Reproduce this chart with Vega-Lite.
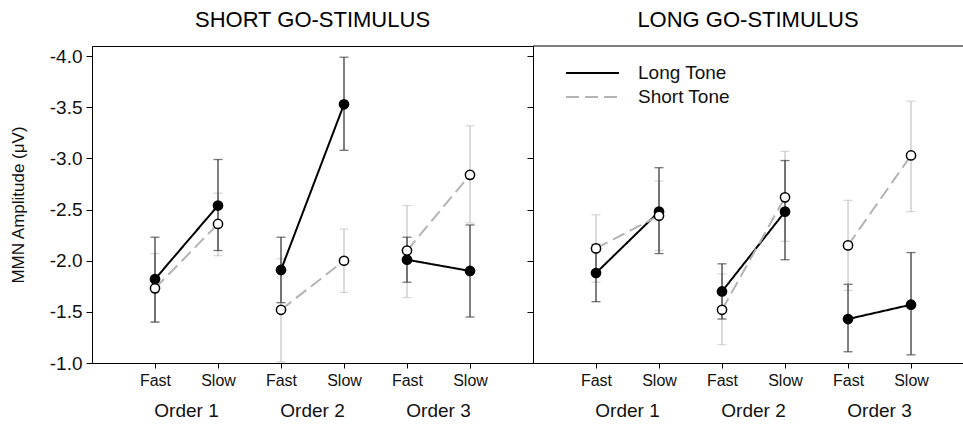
{
  "$schema": "https://vega.github.io/schema/vega-lite/v6.json",
  "padding": {"left": 8, "top": 8, "right": 0, "bottom": 0},
  "bounds": "flush",
  "spacing": 0,
  "config": {
    "font": "Liberation Sans",
    "view": {"stroke": "black", "strokeWidth": 1},
    "title": {"fontSize": 22, "fontWeight": "normal", "color": "black", "offset": 14, "anchor": "middle"},
    "axis": {"domainColor": "black", "tickColor": "black", "labelColor": "#111", "grid": false, "labelFont": "Liberation Sans", "titleFont": "Liberation Sans", "titleColor": "#111"},
    "axisX": {"tickSize": 5, "labelFontSize": 16, "labelPadding": 4},
    "axisY": {"tickSize": 6, "labelFontSize": 19, "labelPadding": 4, "titleFontSize": 17, "titleFontWeight": "normal", "titlePadding": 22}
  },
  "datasets": {
    "d": [
      {"panel": "short", "order": "Order 1", "speed": "Fast", "cond": 1, "tone": "Long Tone", "mean": -1.82, "lo": -2.23, "hi": -1.40},
      {"panel": "short", "order": "Order 1", "speed": "Slow", "cond": 2, "tone": "Long Tone", "mean": -2.54, "lo": -2.99, "hi": -2.10},
      {"panel": "short", "order": "Order 2", "speed": "Fast", "cond": 3, "tone": "Long Tone", "mean": -1.91, "lo": -2.23, "hi": -1.59},
      {"panel": "short", "order": "Order 2", "speed": "Slow", "cond": 4, "tone": "Long Tone", "mean": -3.53, "lo": -3.99, "hi": -3.08},
      {"panel": "short", "order": "Order 3", "speed": "Fast", "cond": 5, "tone": "Long Tone", "mean": -2.01, "lo": -2.23, "hi": -1.79},
      {"panel": "short", "order": "Order 3", "speed": "Slow", "cond": 6, "tone": "Long Tone", "mean": -1.90, "lo": -2.35, "hi": -1.45},
      {"panel": "short", "order": "Order 1", "speed": "Fast", "cond": 1, "tone": "Short Tone", "mean": -1.73, "lo": -2.07, "hi": -1.40},
      {"panel": "short", "order": "Order 1", "speed": "Slow", "cond": 2, "tone": "Short Tone", "mean": -2.36, "lo": -2.66, "hi": -2.05},
      {"panel": "short", "order": "Order 2", "speed": "Fast", "cond": 3, "tone": "Short Tone", "mean": -1.52, "lo": -2.02, "hi": -1.01},
      {"panel": "short", "order": "Order 2", "speed": "Slow", "cond": 4, "tone": "Short Tone", "mean": -2.00, "lo": -2.31, "hi": -1.69},
      {"panel": "short", "order": "Order 3", "speed": "Fast", "cond": 5, "tone": "Short Tone", "mean": -2.10, "lo": -2.54, "hi": -1.64},
      {"panel": "short", "order": "Order 3", "speed": "Slow", "cond": 6, "tone": "Short Tone", "mean": -2.84, "lo": -3.32, "hi": -2.37},
      {"panel": "long", "order": "Order 1", "speed": "Fast", "cond": 1, "tone": "Long Tone", "mean": -1.88, "lo": -2.16, "hi": -1.60},
      {"panel": "long", "order": "Order 1", "speed": "Slow", "cond": 2, "tone": "Long Tone", "mean": -2.48, "lo": -2.91, "hi": -2.07},
      {"panel": "long", "order": "Order 2", "speed": "Fast", "cond": 3, "tone": "Long Tone", "mean": -1.70, "lo": -1.97, "hi": -1.43},
      {"panel": "long", "order": "Order 2", "speed": "Slow", "cond": 4, "tone": "Long Tone", "mean": -2.48, "lo": -2.98, "hi": -2.01},
      {"panel": "long", "order": "Order 3", "speed": "Fast", "cond": 5, "tone": "Long Tone", "mean": -1.43, "lo": -1.77, "hi": -1.11},
      {"panel": "long", "order": "Order 3", "speed": "Slow", "cond": 6, "tone": "Long Tone", "mean": -1.57, "lo": -2.08, "hi": -1.08},
      {"panel": "long", "order": "Order 1", "speed": "Fast", "cond": 1, "tone": "Short Tone", "mean": -2.12, "lo": -2.45, "hi": -1.79},
      {"panel": "long", "order": "Order 1", "speed": "Slow", "cond": 2, "tone": "Short Tone", "mean": -2.44, "lo": -2.78, "hi": -2.10},
      {"panel": "long", "order": "Order 2", "speed": "Fast", "cond": 3, "tone": "Short Tone", "mean": -1.52, "lo": -1.87, "hi": -1.18},
      {"panel": "long", "order": "Order 2", "speed": "Slow", "cond": 4, "tone": "Short Tone", "mean": -2.62, "lo": -3.07, "hi": -2.19},
      {"panel": "long", "order": "Order 3", "speed": "Fast", "cond": 5, "tone": "Short Tone", "mean": -2.15, "lo": -2.59, "hi": -1.71},
      {"panel": "long", "order": "Order 3", "speed": "Slow", "cond": 6, "tone": "Short Tone", "mean": -3.03, "lo": -3.56, "hi": -2.48}
    ],
    "orders": [
      {"order": "Order 1", "mid": 1.5},
      {"order": "Order 2", "mid": 3.5},
      {"order": "Order 3", "mid": 5.5}
    ]
  },
  "resolve": {
    "scale": {"color": "independent", "strokeDash": "independent", "fill": "independent"},
    "legend": {"color": "independent", "strokeDash": "independent", "fill": "independent"}
  },
  "hconcat": [
    {
      "width": 441,
      "height": 317,
      "title": {"text": "SHORT GO-STIMULUS"},
      "data": {"name": "d"},
      "transform": [{"filter": "datum.panel == 'short'"}],
      "layer": [
        {
          "transform": [{"filter": "datum.tone == 'Short Tone'"}],
          "mark": {"type": "errorbar", "orient": "vertical", "ticks": {"size": 9}, "color": "#c8c8c8", "thickness": 1.3},
          "encoding": {
            "x": {"field": "cond", "type": "quantitative", "scale": {"domain": [0, 7], "nice": false, "zero": false},
                  "axis": {"values": [1, 2, 3, 4, 5, 6], "labelExpr": "datum.value % 2 == 1 ? 'Fast' : 'Slow'", "title": null}},
            "y": {"field": "lo", "type": "quantitative", "scale": {"domain": [-4.1, -1], "reverse": true, "nice": false, "zero": false},
                  "axis": {"values": [-4, -3.5, -3, -2.5, -2, -1.5, -1], "labelExpr": "'-' + format(abs(datum.value), '.1f')", "title": "MMN Amplitude (μV)"}},
            "y2": {"field": "hi"}
          }
        },
        {
          "transform": [{"filter": "datum.tone == 'Long Tone'"}],
          "mark": {"type": "errorbar", "orient": "vertical", "ticks": {"size": 9}, "color": "#3c3c3c", "thickness": 1.3},
          "encoding": {
            "x": {"field": "cond", "type": "quantitative",
                  "axis": {"values": [1, 2, 3, 4, 5, 6], "labelExpr": "datum.value % 2 == 1 ? 'Fast' : 'Slow'", "title": null}},
            "y": {"field": "lo", "type": "quantitative",
                  "axis": {"values": [-4, -3.5, -3, -2.5, -2, -1.5, -1], "labelExpr": "'-' + format(abs(datum.value), '.1f')", "title": "MMN Amplitude (μV)"}},
            "y2": {"field": "hi"}
          }
        },
        {
          "mark": {"type": "line", "strokeWidth": 2},
          "encoding": {
            "x": {"field": "cond", "type": "quantitative",
                  "axis": {"values": [1, 2, 3, 4, 5, 6], "labelExpr": "datum.value % 2 == 1 ? 'Fast' : 'Slow'", "title": null}},
            "y": {"field": "mean", "type": "quantitative",
                  "axis": {"values": [-4, -3.5, -3, -2.5, -2, -1.5, -1], "labelExpr": "'-' + format(abs(datum.value), '.1f')", "title": "MMN Amplitude (μV)"}},
            "color": {"field": "tone", "type": "nominal", "scale": {"domain": ["Long Tone", "Short Tone"], "range": ["#000000", "#b4b4b4"]}, "legend": null},
            "strokeDash": {"field": "tone", "type": "nominal", "scale": {"domain": ["Long Tone", "Short Tone"], "range": [[1, 0], [13, 6]]}, "legend": null},
            "detail": {"field": "order"}
          }
        },
        {
          "mark": {"type": "circle", "size": 85, "stroke": "black", "strokeWidth": 1.5, "opacity": 1},
          "encoding": {
            "x": {"field": "cond", "type": "quantitative",
                  "axis": {"values": [1, 2, 3, 4, 5, 6], "labelExpr": "datum.value % 2 == 1 ? 'Fast' : 'Slow'", "title": null}},
            "y": {"field": "mean", "type": "quantitative",
                  "axis": {"values": [-4, -3.5, -3, -2.5, -2, -1.5, -1], "labelExpr": "'-' + format(abs(datum.value), '.1f')", "title": "MMN Amplitude (μV)"}},
            "fill": {"field": "tone", "type": "nominal", "scale": {"domain": ["Long Tone", "Short Tone"], "range": ["#000000", "#ffffff"]}, "legend": null}
          }
        },
        {
          "data": {"name": "orders"},
          "mark": {"type": "text", "fontSize": 19, "baseline": "middle", "align": "center", "color": "#111"},
          "encoding": {
            "x": {"field": "mid", "type": "quantitative",
                  "axis": {"values": [1, 2, 3, 4, 5, 6], "labelExpr": "datum.value % 2 == 1 ? 'Fast' : 'Slow'", "title": null}},
            "y": {"datum": -0.53, "type": "quantitative",
                  "axis": {"values": [-4, -3.5, -3, -2.5, -2, -1.5, -1], "labelExpr": "'-' + format(abs(datum.value), '.1f')", "title": "MMN Amplitude (μV)"}},
            "text": {"field": "order"}
          }
        }
      ]
    },
    {
      "width": 430,
      "height": 317,
      "view": {"stroke": null},
      "title": {"text": "LONG GO-STIMULUS"},
      "data": {"name": "d"},
      "transform": [{"filter": "datum.panel == 'long'"}],
      "layer": [
        {
          "transform": [{"filter": "datum.tone == 'Short Tone'"}],
          "mark": {"type": "errorbar", "orient": "vertical", "ticks": {"size": 9}, "color": "#c8c8c8", "thickness": 1.3},
          "encoding": {
            "x": {"field": "cond", "type": "quantitative", "scale": {"domain": [0, 6.825], "nice": false, "zero": false},
                  "axis": {"values": [1, 2, 3, 4, 5, 6], "labelExpr": "datum.value % 2 == 1 ? 'Fast' : 'Slow'", "title": null}},
            "y": {"field": "lo", "type": "quantitative", "scale": {"domain": [-4.1, -1], "reverse": true, "nice": false, "zero": false},
                  "axis": {"values": [-4, -3.5, -3, -2.5, -2, -1.5, -1], "labels": false, "title": null}},
            "y2": {"field": "hi"}
          }
        },
        {
          "transform": [{"filter": "datum.tone == 'Long Tone'"}],
          "mark": {"type": "errorbar", "orient": "vertical", "ticks": {"size": 9}, "color": "#3c3c3c", "thickness": 1.3},
          "encoding": {
            "x": {"field": "cond", "type": "quantitative",
                  "axis": {"values": [1, 2, 3, 4, 5, 6], "labelExpr": "datum.value % 2 == 1 ? 'Fast' : 'Slow'", "title": null}},
            "y": {"field": "lo", "type": "quantitative",
                  "axis": {"values": [-4, -3.5, -3, -2.5, -2, -1.5, -1], "labels": false, "title": null}},
            "y2": {"field": "hi"}
          }
        },
        {
          "mark": {"type": "line", "strokeWidth": 2},
          "encoding": {
            "x": {"field": "cond", "type": "quantitative",
                  "axis": {"values": [1, 2, 3, 4, 5, 6], "labelExpr": "datum.value % 2 == 1 ? 'Fast' : 'Slow'", "title": null}},
            "y": {"field": "mean", "type": "quantitative",
                  "axis": {"values": [-4, -3.5, -3, -2.5, -2, -1.5, -1], "labels": false, "title": null}},
            "color": {"field": "tone", "type": "nominal", "scale": {"domain": ["Long Tone", "Short Tone"], "range": ["#000000", "#b4b4b4"]},
                      "legend": {"title": null, "orient": "none", "legendX": 32, "legendY": 17, "symbolType": "stroke", "symbolSize": 2809, "symbolStrokeWidth": 2, "labelFontSize": 19, "labelOffset": 18, "labelColor": "#111", "clipHeight": 20, "rowPadding": 4, "padding": 0}},
            "strokeDash": {"field": "tone", "type": "nominal", "scale": {"domain": ["Long Tone", "Short Tone"], "range": [[1, 0], [13, 6]]},
                      "legend": {"title": null, "orient": "none", "legendX": 32, "legendY": 17, "symbolType": "stroke", "symbolSize": 2809, "symbolStrokeWidth": 2, "labelFontSize": 19, "labelOffset": 18, "labelColor": "#111", "clipHeight": 20, "rowPadding": 4, "padding": 0}},
            "detail": {"field": "order"}
          }
        },
        {
          "mark": {"type": "circle", "size": 85, "stroke": "black", "strokeWidth": 1.5, "opacity": 1},
          "encoding": {
            "x": {"field": "cond", "type": "quantitative",
                  "axis": {"values": [1, 2, 3, 4, 5, 6], "labelExpr": "datum.value % 2 == 1 ? 'Fast' : 'Slow'", "title": null}},
            "y": {"field": "mean", "type": "quantitative",
                  "axis": {"values": [-4, -3.5, -3, -2.5, -2, -1.5, -1], "labels": false, "title": null}},
            "fill": {"field": "tone", "type": "nominal", "scale": {"domain": ["Long Tone", "Short Tone"], "range": ["#000000", "#ffffff"]}, "legend": null}
          }
        },
        {
          "data": {"name": "orders"},
          "mark": {"type": "text", "fontSize": 19, "baseline": "middle", "align": "center", "color": "#111"},
          "encoding": {
            "x": {"field": "mid", "type": "quantitative",
                  "axis": {"values": [1, 2, 3, 4, 5, 6], "labelExpr": "datum.value % 2 == 1 ? 'Fast' : 'Slow'", "title": null}},
            "y": {"datum": -0.53, "type": "quantitative",
                  "axis": {"values": [-4, -3.5, -3, -2.5, -2, -1.5, -1], "labels": false, "title": null}},
            "text": {"field": "order"}
          }
        },
        {
          "data": {"values": [{}]},
          "mark": {"type": "rule", "color": "black", "strokeWidth": 1},
          "encoding": {
            "y": {"datum": -4.1, "type": "quantitative",
                  "axis": {"values": [-4, -3.5, -3, -2.5, -2, -1.5, -1], "labels": false, "title": null}}
          }
        }
      ]
    }
  ]
}
